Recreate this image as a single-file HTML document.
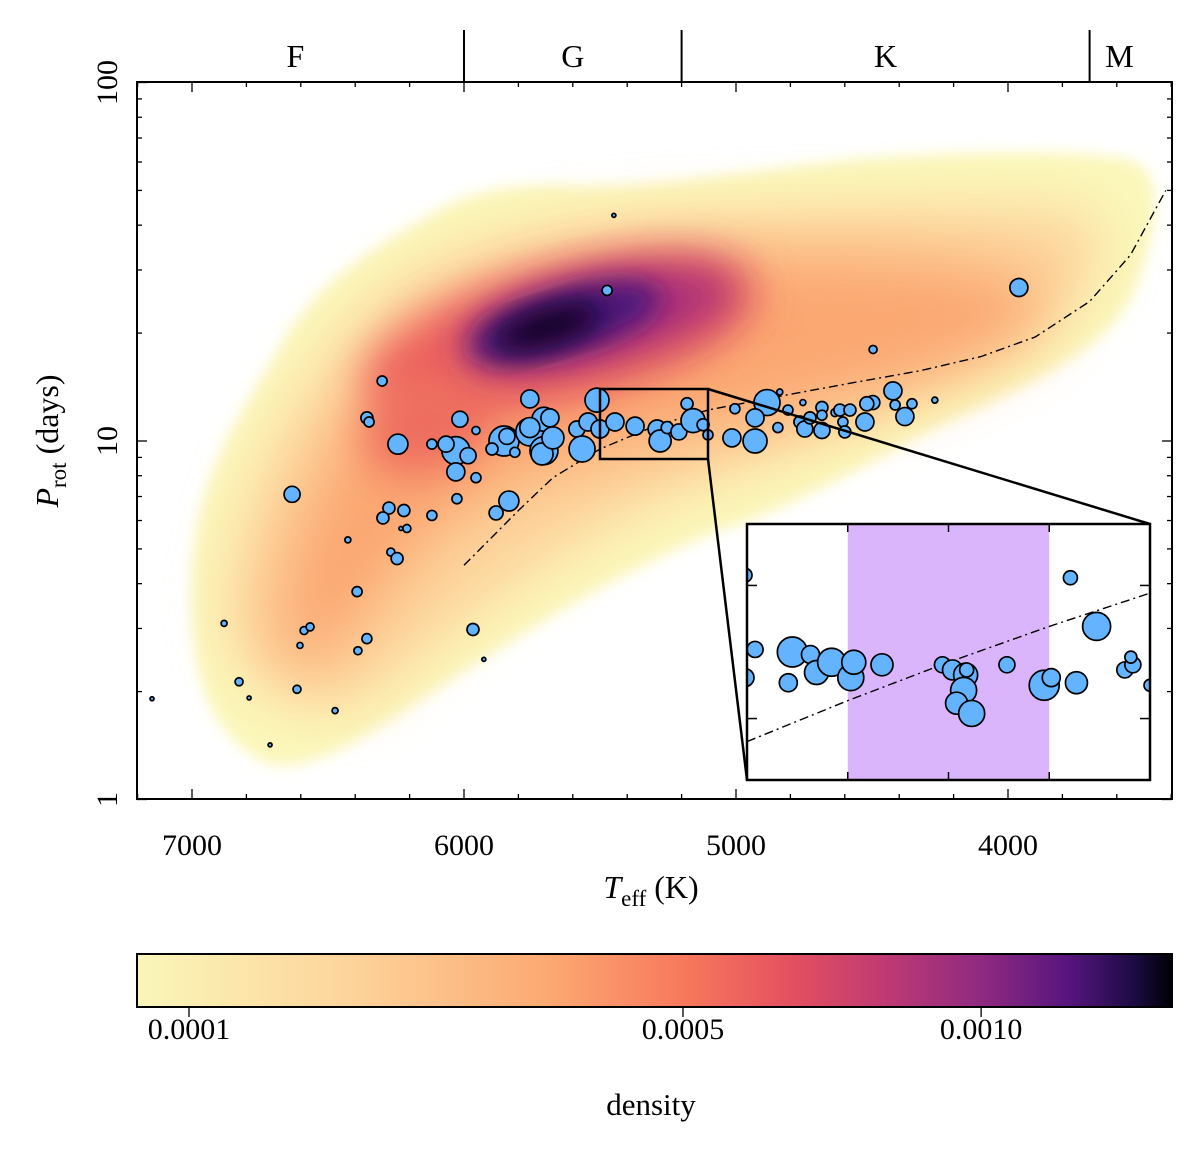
<!DOCTYPE html>
<html><head><meta charset="utf-8">
<style>
html,body{margin:0;padding:0;background:#fff;}
svg{display:block;font-family:"Liberation Serif","DejaVu Serif",serif;}
</style></head>
<body>
<svg id="chart" width="1200" height="1155" viewBox="0 0 1200 1155" xmlns="http://www.w3.org/2000/svg">
<defs>
  <filter id="b1" x="-30%" y="-30%" width="160%" height="160%"><feGaussianBlur stdDeviation="7"/></filter>
  <filter id="b2" x="-30%" y="-30%" width="160%" height="160%"><feGaussianBlur stdDeviation="28"/></filter>
  <filter id="b3" x="-50%" y="-50%" width="200%" height="200%"><feGaussianBlur stdDeviation="30"/></filter>
  <filter id="b4" x="-50%" y="-50%" width="200%" height="200%"><feGaussianBlur stdDeviation="22"/></filter>
  <filter id="b5" x="-50%" y="-50%" width="200%" height="200%"><feGaussianBlur stdDeviation="14"/></filter>
  <clipPath id="plotclip"><rect x="137" y="82" width="1035" height="717"/></clipPath>
  <clipPath id="insetclip"><rect x="747" y="524" width="403" height="256"/></clipPath>
  <linearGradient id="magma" x1="0" x2="1" y1="0" y2="0">
    <stop offset="0" stop-color="#faf6b9"/>
    <stop offset="0.2" stop-color="#fdd59c"/>
    <stop offset="0.4" stop-color="#fca872"/>
    <stop offset="0.53" stop-color="#f7785c"/>
    <stop offset="0.63" stop-color="#e4515f"/>
    <stop offset="0.72" stop-color="#c13a73"/>
    <stop offset="0.82" stop-color="#8c2981"/>
    <stop offset="0.9" stop-color="#57157e"/>
    <stop offset="0.96" stop-color="#1f0c48"/>
    <stop offset="1" stop-color="#000004"/>
  </linearGradient>
</defs>
<g id="density" clip-path="url(#plotclip)">
  <path filter="url(#b1)" fill="#fbf7ba" d="M192,580 C195,470 240,420 290,330 C330,270 390,240 430,215 C470,190 520,183 570,186 C640,190 720,175 850,160 C980,150 1080,150 1130,160 C1165,170 1160,230 1130,300 C1100,350 1040,380 950,420 C880,455 800,505 720,530 C620,570 510,640 420,700 C360,740 300,780 260,760 C210,730 190,680 192,580 Z"/>
  <path filter="url(#b2)" fill="#fdd49c" d="M225,610 C240,480 300,380 380,300 C450,240 560,220 700,215 C850,210 1000,200 1090,215 C1120,250 1080,320 980,370 C880,420 760,460 660,500 C560,550 460,620 380,690 C320,730 240,700 225,610 Z"/>
  <path filter="url(#b3)" fill="#fba772" d="M280,600 C300,480 360,390 440,330 C530,270 650,255 800,255 C930,255 1030,270 1050,300 C1040,350 900,390 760,420 C620,450 520,470 440,530 C380,590 330,670 305,670 C280,660 275,640 280,600 Z"/>
  <ellipse filter="url(#b4)" cx="560" cy="335" rx="200" ry="65" fill="#ec5f5d" transform="rotate(-14 560 335)"/>
  <ellipse filter="url(#b4)" cx="430" cy="420" rx="70" ry="50" fill="#ee6d5e" transform="rotate(-30 430 420)"/>
  <ellipse filter="url(#b4)" cx="600" cy="318" rx="140" ry="42" fill="#a92f7b" transform="rotate(-13 600 318)"/>
  <ellipse filter="url(#b5)" cx="565" cy="322" rx="100" ry="32" fill="#4b127a" transform="rotate(-16 565 322)"/>
  <ellipse filter="url(#b5)" cx="548" cy="327" rx="55" ry="18" fill="#0a0420" transform="rotate(-17 548 327)"/>
</g>
<g id="axes-layer"></g>
</svg>
<script>
// ---------- data ----------
const teff = [6301,6357,6349,6243,6632,6276,6298,6221,6118,6026,6210,6232,6427,6269,6246,6393,6882,6588,6566,6603,6357,6390,5967,5927,6827,6790,6614,6474,7147,6713,5882,5835,
5758,6015,6030,6066,6118,5985,6030,5956,5956,5853,5897,5813,5842,5758,5706,5706,
5758,5713,5684,5673,5585,5566,5511,5544,5500,5445,5371,5290,5279,5253,5210,5180,5158,5121,5103,
5004,5015,4930,4886,4930,4846,4839,4809,4754,4765,4747,4728,4684,4684,4684,4636,4618,4607,4600,4581,4526,4497,4519,4423,4415,4379,4353,4269,
5449,5474,3960,4496];
const prot = [14.7,11.6,11.3,9.8,7.1,6.5,6.1,6.4,6.2,6.9,5.7,5.7,5.3,4.9,4.7,3.8,3.1,2.96,3.03,2.69,2.81,2.6,2.98,2.46,2.13,1.92,2.03,1.77,1.91,1.42,6.3,6.8,
13.1,11.5,9.4,9.8,9.8,9.1,8.2,7.9,10.7,10.0,9.5,9.3,10.3,10.6,11.5,9.4,
10.9,9.2,11.6,10.2,10.8,9.5,13.0,11.3,10.8,11.3,11.0,10.8,10.0,10.9,10.6,12.7,11.4,11.1,10.4,
12.3,10.2,10.0,12.8,11.6,10.9,13.7,12.2,12.8,11.3,10.8,11.6,12.4,11.8,10.7,12.0,12.2,11.3,10.6,12.2,11.3,12.8,12.7,13.8,12.6,11.7,12.7,13.0,
42.6,26.3,26.8,18.0];
const msize = [5,6,5,10,8,6,6,6,5,5,4,2,3,4,6,5,3,4,4,3,5,4,6,2,4,2,4,3,2,2,7,10,
9,8,14,8,5,8,9,5,4,15,6,5,8,14,12,14,
10,11,9,11,8,13,12,9,9,9,9,9,11,6,8,6,12,6,5,
5,9,12,13,9,5,3,5,3,6,8,6,6,5,8,4,6,5,6,6,9,7,7,9,5,9,5,3,
2,5,9,4];
const curveT = [6000,5800,5673,5500,5300,5103,4800,4600,4324,4100,3900,3700,3550,3420];
const curveP = [4.5,6.4,7.9,9.5,11.0,12.2,13.5,14.4,15.7,17.2,19.5,24.5,33,50];
const xTicks = [7000,6000,5000,4000];
const yTicks = [1,10,100];
const specBounds = [6000,5200,3700];
const specLabels = ["F","G","K","M"];
const specCenters = [6620,5600,4450,3590];
const cbTicks = [0.0001,0.0005,0.0010];
const cbLabels = ["0.0001","0.0005","0.0010"];
const inX = [-0.02,0.08,-0.02,0.45,0.63,0.41,0.69,0.84,1.03,1.06,1.34,1.94,2.04,2.17,2.15,2.08,2.23,2.18,2.58,2.95,3.02,3.27,3.21,3.47,3.75,3.83,3.81,4.0];
const inY = [0.80,0.51,0.40,0.50,0.49,0.38,0.42,0.46,0.40,0.46,0.45,0.45,0.43,0.41,0.35,0.30,0.26,0.43,0.45,0.37,0.40,0.38,0.79,0.60,0.43,0.45,0.48,0.37];
const inS = [7,8,9,15,9,9,12,14,13,12,11,8,10,12,13,11,13,7,8,15,9,11,7,14,8,8,6,6];
const inCurveX = [0,1,2,3,4];
const inCurveY = [0.15,0.31,0.46,0.60,0.73];

// ---------- scales ----------
const X0=137,X1=1172,Y0=82,Y1=799;
const x = T => 192 + (7000 - T) * 0.272;
const y = P => 441 - (Math.log10(P) - 1) * 358.5;
const IX0=747,IX1=1150,IY0=524,IY1=780;
const ix = v => IX0 + v/4*(IX1-IX0);
const iy = v => IY1 - v*(IY1-IY0);
const cbx = v => 189 + (Math.pow(v,0.3) - Math.pow(0.0001,0.3))*12614;

const NS="http://www.w3.org/2000/svg";
const layer=document.getElementById('axes-layer');
function mk(tag,attrs,parent){const e=document.createElementNS(NS,tag);for(const k in attrs)e.setAttribute(k,attrs[k]);(parent||layer).appendChild(e);return e;}

// dash-dot curve main
let d=curveT.map((t,i)=>(i?'L':'M')+x(t).toFixed(1)+','+y(curveP[i]).toFixed(1)).join(' ');
const cur=mk('path',{d:d,fill:'none',stroke:'#000','stroke-width':1.4,'stroke-dasharray':'9,4,2,4','clip-path':'url(#plotclip)'});



// scatter main
const sg=mk('g',{'clip-path':'url(#plotclip)'});


teff.forEach((t,i)=>{
  const c=mk('circle',{cx:x(t),cy:y(prot[i]),r:msize[i],fill:'#63b3ff',stroke:'#000','stroke-width':1.7},sg);
  
  
});

// zoom box & connectors
const zb=mk('rect',{x:600,y:389,width:108,height:70,fill:'none',stroke:'#000','stroke-width':2.5});


const c1=mk('line',{x1:708,y1:389,x2:1150,y2:524,stroke:'#000','stroke-width':2.5});


const c2=mk('line',{x1:708,y1:459,x2:747,y2:780,stroke:'#000','stroke-width':2.5});



// inset
const ig=mk('g',{});


mk('rect',{x:IX0,y:IY0,width:IX1-IX0,height:IY1-IY0,fill:'#fff'},ig);
const span=mk('rect',{x:ix(1),y:IY0,width:ix(3)-ix(1),height:IY1-IY0,fill:'#dbb5fc'},ig);


const icg=mk('g',{'clip-path':'url(#insetclip)'},ig);
const il=mk('path',{d:inCurveX.map((v,i)=>(i?'L':'M')+ix(v)+','+iy(inCurveY[i])).join(' '),fill:'none',stroke:'#000','stroke-width':1.4,'stroke-dasharray':'9,4,2,4'},icg);


inX.forEach((v,i)=>{
  const c=mk('circle',{cx:ix(v),cy:iy(inY[i]),r:inS[i],fill:'#63b3ff',stroke:'#000','stroke-width':1.7},icg);
  
  
});
[1,2,3].forEach(v=>{mk('line',{x1:ix(v),x2:ix(v),y1:IY1,y2:IY1-8,stroke:'#000','stroke-width':1.5},ig);mk('line',{x1:ix(v),x2:ix(v),y1:IY0,y2:IY0+8,stroke:'#000','stroke-width':1.5},ig);});
[0.24,0.76].forEach(v=>{mk('line',{x1:IX0,x2:IX0+10,y1:iy(v),y2:iy(v),stroke:'#000','stroke-width':1.5},ig);mk('line',{x1:IX1,x2:IX1-10,y1:iy(v),y2:iy(v),stroke:'#000','stroke-width':1.5},ig);});
mk('rect',{x:IX0,y:IY0,width:IX1-IX0,height:IY1-IY0,fill:'none',stroke:'#000','stroke-width':2.5},ig);

// main frame
const fr=mk('rect',{x:X0,y:Y0,width:X1-X0,height:Y1-Y0,fill:'none',stroke:'#000','stroke-width':2});



// x ticks
for(let t=7200;t>=3400;t-=200){
  const px=x(t); if(px<X0||px>X1)continue;
  const major=t%1000===0, L=major?10:5;
  mk('line',{x1:px,x2:px,y1:Y1,y2:Y1-L,stroke:'#000','stroke-width':1.3});
  mk('line',{x1:px,x2:px,y1:Y0,y2:Y0+L,stroke:'#000','stroke-width':1.3});
}
xTicks.forEach(t=>{
  const tx=mk('text',{x:x(t),y:855,'text-anchor':'middle','font-size':30});
  tx.textContent=t;
  
  
});
// y ticks
for(let dec=1;dec<100;dec*=10){for(let m=1;m<10;m++){
  const v=dec*m, py=y(v), L=m===1?10:5;
  mk('line',{x1:X0,x2:X0+L,y1:py,y2:py,stroke:'#000','stroke-width':1.3});
  mk('line',{x1:X1,x2:X1-L,y1:py,y2:py,stroke:'#000','stroke-width':1.3});
}}
mk('line',{x1:X0,x2:X0+10,y1:y(100),y2:y(100),stroke:'#000','stroke-width':1.3});
yTicks.forEach(v=>{
  const tx=mk('text',{x:0,y:0,'text-anchor':'middle','font-size':30,transform:`translate(117,${y(v)}) rotate(-90)`});
  tx.textContent=v;
  
  
});
// spectral type top axis
specBounds.forEach(t=>{
  const l=mk('line',{x1:x(t),x2:x(t),y1:Y0,y2:30,stroke:'#000','stroke-width':2});
  
  
});
specLabels.forEach((s,i)=>{
  const tx=mk('text',{x:x(specCenters[i]),y:67,'text-anchor':'middle','font-size':32});
  tx.textContent=s;
  
  
});

// axis titles
const xt=mk('text',{x:651,y:898,'text-anchor':'middle','font-size':32});
xt.innerHTML='<tspan font-style="italic">T</tspan><tspan font-size="23" dy="8">eff</tspan><tspan dy="-8"> (K)</tspan>';


const yt=mk('text',{x:0,y:0,'text-anchor':'middle','font-size':32,transform:'translate(58,441) rotate(-90)'});
yt.innerHTML='<tspan font-style="italic">P</tspan><tspan font-size="23" dy="8">rot</tspan><tspan dy="-8"> (days)</tspan>';



// colorbar
const cb=mk('rect',{x:137,y:954,width:1035,height:53,fill:'url(#magma)',stroke:'#000','stroke-width':2});


cbTicks.forEach((v,i)=>{
  const px=cbx(v);
  mk('line',{x1:px,x2:px,y1:1007,y2:1017,stroke:'#000','stroke-width':1.3});
  const tx=mk('text',{x:px,y:1039,'text-anchor':'middle','font-size':30});
  tx.textContent=cbLabels[i];
  
  
});
const ct=mk('text',{x:651,y:1115,'text-anchor':'middle','font-size':31});
ct.textContent='density';


</script>
</body></html>
